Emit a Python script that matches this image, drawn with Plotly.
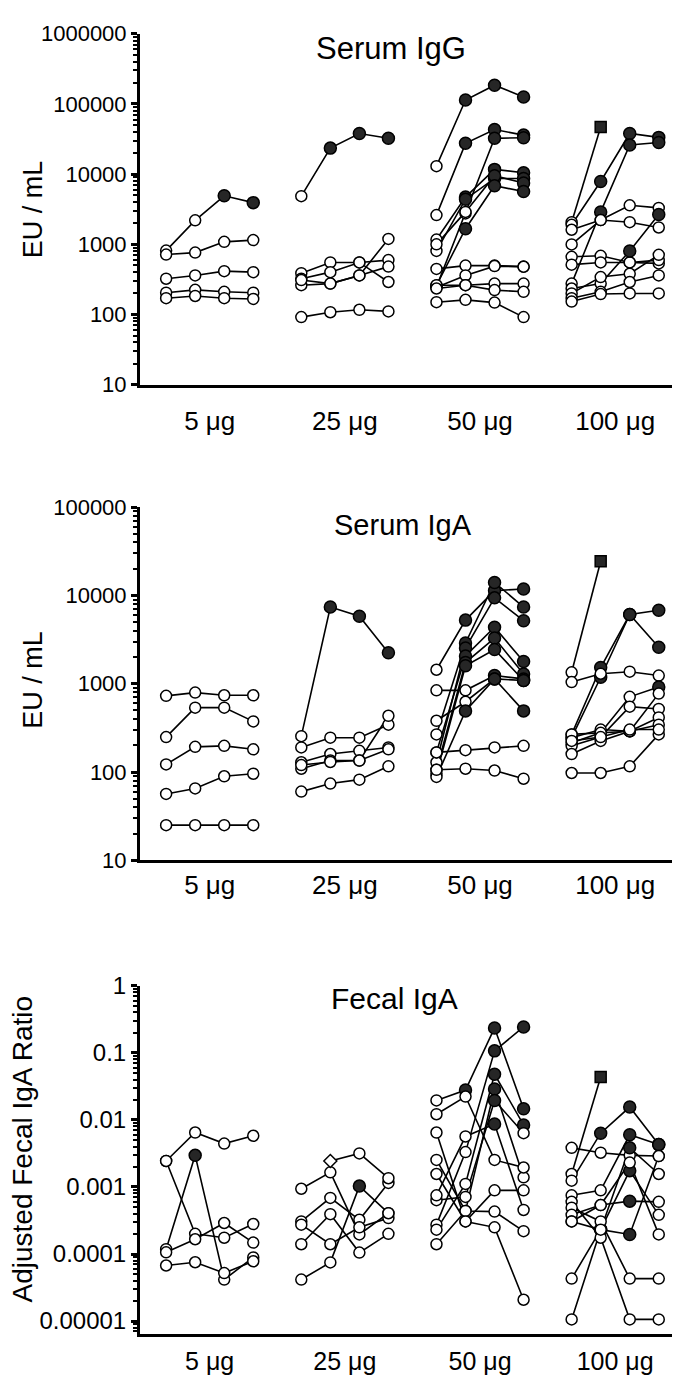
import plotly.graph_objects as go

# ---------------- data ----------------
DOSES = ["5 μg", "25 μg", "50 μg", "100 μg"]
TIMEPOINTS = [0, 1, 2, 3]

# status codes per point: n = open circle, r = filled circle, x = filled square, d = open diamond
IGG_5 = [[815, 2200, 4920, 3930], [716, 763, 1086, 1150], [324, 361, 415, 402],
         [205, 225, 211, 205], [171, 184, 171, 167]]
IGG_5_ST = ["nnrr", "nnnn", "nnnn", "nnnn", "nnnn"]
IGG_25 = [[4860, 23500, 38000, 32400], [389, 553, 553, 291], [324, 402, 553, 597],
          [262, 276, 361, 1197], [310, 276, 361, 482], [92, 108, 117, 111]]
IGG_25_ST = ["nrrr", "nnnn", "nnnn", "nnnn", "nnnn", "nnnn"]
IGG_50 = [[13000, 114000, 185000, 126000], [2610, 27500, 43300, 36000], [248, 2760, 32400, 33000],
          [1170, 4710, 11700, 10500], [806, 4400, 8670, 8670], [1000, 2900, 9500, 7470],
          [260, 1670, 6850, 5650], [447, 498, 498, 482], [245, 361, 490, 480],
          [262, 262, 276, 276], [235, 262, 223, 211], [150, 162, 148, 92]]
IGG_50_ST = ["nrrr", "nrrr", "nnrr", "nrrr", "nrrr", "nnrr", "nrrr",
             "nnnn", "nnnn", "nnnn", "nnnn", "nnnn"]
IGG_100 = [[2070, 47000, None, None], [1900, 7870, 38000, 33400], [276, 2900, 26100, 28200],
           [1615, 2220, 3600, 3310], [998, 2220, 2070, 1740], [665, 687, 553, 536],
           [514, 553, 553, 597], [235, 276, 806, 2670], [200, 342, 381, 710],
           [171, 211, 291, 361], [153, 196, 200, 200]]
IGG_100_ST = ["nx--", "nrrr", "nrrr", "nnnn", "nnnn", "nnnn", "nnnn", "nnrr", "nnnn", "nnnn", "nnnn"]

IGA_5 = [[730, 795, 741, 741], [249, 537, 537, 375], [122, 193, 198, 181],
         [56.5, 65.2, 89.5, 95.7], [25, 25, 25, 25]]
IGA_5_ST = ["nnnn", "nnnn", "nnnn", "nnnn", "nnnn"]
IGA_25 = [[255, 7410, 5840, 2250], [190, 245, 245, 344], [129, 160, 174, 190],
          [109, 135, 135, 434], [120, 130, 135, 181], [60, 74, 82, 116]]
IGA_25_ST = ["nrrr", "nnnn", "nnnn", "nnnn", "nnnn", "nnnn"]
IGA_50 = [[1442, 5270, 11370, 11860], [267, 2900, 14060, 7410], [129, 2550, 9420, 5190],
          [167, 2070, 4370, 1786], [106, 1740, 3300, 1290], [96, 1600, 2450, 1090],
          [843, 843, 1240, 1136], [381, 626, 1136, 493], [88, 493, 1136, 1090],
          [167, 177, 190, 198], [106, 109, 104, 84]]
IGA_50_ST = ["nrrr", "nrrr", "nrrr", "nrrr", "nrrr", "nrrr", "nnrr", "nnrr", "nrrr", "nnnn", "nnnn"]
IGA_100 = [[1350, 24500, None, None], [267, 1530, 6100, 6810], [245, 1186, 6100, 2600],
           [1045, 1300, 1371, 1240], [215, 278, 711, 918], [198, 249, 551, 519],
           [160, 225, 290, 774], [245, 303, 290, 416], [97.5, 97.5, 116, 267],
           [267, 278, 290, 344], [225, 249, 303, 303]]
IGA_100_ST = ["nx--", "nrrr", "nrrr", "nnnn", "nnnr", "nnnn", "nnnn", "nnnn", "nnnn", "nnnn", "nnnn"]

FEC_5 = [[0.00244, 0.00648, 0.00443, 0.0058], [0.000118, 0.00296, 4.16e-5, 8.9e-5],
         [0.00244, 0.0002, 0.000175, 0.00028], [0.000106, 0.000166, 0.00029, 0.000148],
         [6.74e-5, 7.54e-5, 5.2e-5, 7.8e-5]]
FEC_5_ST = ["nnnn", "nrnn", "nnnn", "nnnn", "nnnn"]
FEC_25 = [[0.00094, 0.00165, 0.000196, 0.000406], [0.000306, 0.000687, 0.000324, 0.00115],
          [0.000274, 0.00014, 0.00025, 0.000343], [0.00014, 0.000393, 0.000105, 0.0002],
          [4.16e-5, 7.5e-5, 0.00103, 0.000406], [None, 0.00244, 0.00316, 0.00135]]
FEC_25_ST = ["nnnn", "nnnn", "nnnn", "nnnn", "nnrn", "-dnn"]
FEC_50 = [[0.0195, 0.0279, 0.235, 0.0147], [0.000274, 0.00331, 0.107, 0.243],
          [0.000231, 0.00111, 0.0479, 0.0084], [0.00014, 0.000439, 0.0289, 0.00139],
          [0.000635, 0.000711, 0.0195, 0.00634], [0.000751, 0.00566, 0.00869, 0.000454],
          [0.01215, 0.0223, 0.00253, 0.00195], [0.00648, 0.000306, 0.00089, 0.00089],
          [0.00253, 0.000439, 0.000429, 0.000219], [0.00156, 0.000306, 0.00025, 2.08e-5]]
FEC_50_ST = ["nrrr", "nnrr", "nnrr", "nnrn", "nnrn", "nnrn", "nnnn", "nnnn", "nnnn", "nnnn"]
FEC_100 = [[0.00156, 0.0437, None, None], [0.00124, 0.00634, 0.01555, 0.00428],
           [0.00383, 0.00324, 0.00296, 0.00289], [0.000751, 0.00089, 0.006, 0.00428],
           [1.06e-5, 0.000231, 0.00383, 0.00156], [4.3e-5, 0.000231, 0.00175, 0.000384],
           [0.0006, 0.000175, 1.06e-5, 1.06e-5], [0.000491, 0.000306, 4.3e-5, 4.3e-5],
           [0.000384, 0.000537, 0.000614, 0.0006], [0.000306, 0.000231, 0.000196, 0.00289],
           [0.000306, 0.000537, 0.00231, 0.000196]]
FEC_100_ST = ["nx--", "nrrr", "nnnn", "nnrr", "nrrn", "nrrn", "nnnn", "nnnn", "nnrn", "nnrn", "nnnn"]

IGG_TICKS = [10, 100, 1000, 10000, 100000, 1000000]
IGG_TICKTEXT = ["10", "100", "1000", "10000", "100000", "1000000"]
IGA_TICKS = [10, 100, 1000, 10000, 100000]
IGA_TICKTEXT = ["10", "100", "1000", "10000", "100000"]
FEC_TICKS = [0.00001, 0.0001, 0.001, 0.01, 0.1, 1]
FEC_TICKTEXT = ["0.00001", "0.0001", "0.001", "0.01", "0.1", "1"]

TITLES = ["Serum IgG", "Serum IgA", "Fecal IgA"]
YTITLES = ["EU / mL", "EU / mL", "Adjusted Fecal IgA Ratio"]

# ---------------- layout helpers ----------------
FONT = "Liberation Sans, Arial, Helvetica, sans-serif"
W, H = 680, 1380
ML, MR = 132, 5
PW = W - ML - MR
GROUP_STEP = 4.655
XRANGE = [-0.9, 17.8]

STYLE = {
    "n": dict(symbol="circle", color="white", size=11),
    "r": dict(symbol="circle", color="#262626", size=12),
    "x": dict(symbol="square", color="#262626", size=11),
    "d": dict(symbol="diamond", color="white", size=10),
}

panels = [
    dict(groups=[(IGG_5, IGG_5_ST), (IGG_25, IGG_25_ST), (IGG_50, IGG_50_ST), (IGG_100, IGG_100_ST)],
         ticks=IGG_TICKS, ticktext=IGG_TICKTEXT, top=12, bottom=370, rng=[1, 6],
         title_xy=(383, 27), title_size=31, ytitle_xy=(25, 191), ytitle_size=27,
         tickfont=22, xfont=26, standoff=11),
    dict(groups=[(IGA_5, IGA_5_ST), (IGA_25, IGA_25_ST), (IGA_50, IGA_50_ST), (IGA_100, IGA_100_ST)],
         ticks=IGA_TICKS, ticktext=IGA_TICKTEXT, top=495, bottom=855, rng=[1, 5],
         title_xy=(395, 513), title_size=29, ytitle_xy=(25, 671), ytitle_size=27,
         tickfont=22, xfont=26, standoff=0),
    dict(groups=[(FEC_5, FEC_5_ST), (FEC_25, FEC_25_ST), (FEC_50, FEC_50_ST), (FEC_100, FEC_100_ST)],
         ticks=FEC_TICKS, ticktext=FEC_TICKTEXT, top=983, bottom=1338, rng=[-5.19, 0],
         title_xy=(386, 996), title_size=30, ytitle_xy=(14, 1150), ytitle_size=28,
         tickfont=24, xfont=25, standoff=3),
]

fig = go.Figure()
layout = {}
annotations = []


def px_to_paper_x(px):
    return (px - ML) / PW


def px_to_paper_y(py):
    return 1 - py / H


for i, p in enumerate(panels):
    xa = "x" if i == 0 else f"x{i+1}"
    ya = "y" if i == 0 else f"y{i+1}"
    # lines first
    for g, (series, status) in enumerate(p["groups"]):
        for vals in series:
            xs = [g * GROUP_STEP + t for t in TIMEPOINTS]
            fig.add_trace(go.Scatter(x=xs, y=vals, mode="lines", xaxis=xa, yaxis=ya,
                                     line=dict(color="black", width=1.6),
                                     connectgaps=False, showlegend=False, hoverinfo="skip"))
    # markers on top
    for g, (series, status) in enumerate(p["groups"]):
        for vals, st in zip(series, status):
            xs, ys, sym, col, sz = [], [], [], [], []
            for t, v, s in zip(TIMEPOINTS, vals, st):
                if v is None or s == "-":
                    continue
                xs.append(g * GROUP_STEP + t)
                ys.append(v)
                sym.append(STYLE[s]["symbol"])
                col.append(STYLE[s]["color"])
                sz.append(STYLE[s]["size"])
            fig.add_trace(go.Scatter(x=xs, y=ys, mode="markers", xaxis=xa, yaxis=ya,
                                     marker=dict(symbol=sym, color=col, size=sz, opacity=1,
                                                 line=dict(color="black", width=1.5)),
                                     showlegend=False, hoverinfo="skip"))

    lo, hi = p["rng"]
    minor_vals = []
    for d in range(int(lo) - 1, int(hi) + 1):
        for k in range(2, 10):
            v = k * 10.0 ** d
            if 10 ** lo <= v <= 10 ** hi:
                minor_vals.append(v)

    yname = "yaxis" if i == 0 else f"yaxis{i+1}"
    xname = "xaxis" if i == 0 else f"xaxis{i+1}"
    layout[yname] = dict(
        type="log", range=p["rng"], domain=[px_to_paper_y(p["bottom"]), px_to_paper_y(p["top"])],
        anchor=xa, showline=True, linewidth=3, linecolor="black", mirror=False,
        ticks="outside", ticklen=6, tickwidth=2.5, tickcolor="black",
        tickmode="array", tickvals=p["ticks"], ticktext=p["ticktext"],
        tickfont=dict(size=p["tickfont"], family=FONT, color="black"),
        showgrid=False, zeroline=False, fixedrange=True,
        minor=dict(ticks="outside", ticklen=4, tickwidth=2, tickcolor="black",
                   tickmode="array", tickvals=minor_vals, showgrid=False),
    )
    layout[xname] = dict(
        range=XRANGE, domain=[0, 1], anchor=ya, showline=True, linewidth=3, linecolor="black",
        ticks="", tickmode="array",
        tickvals=[g * GROUP_STEP + 1.5 for g in range(len(DOSES))], ticktext=DOSES,
        tickfont=dict(size=p["xfont"], family=FONT, color="black"),
        ticklabelstandoff=p["standoff"],
        showgrid=False, zeroline=False, fixedrange=True,
    )
    tx, ty = p["title_xy"]
    annotations.append(dict(text=TITLES[i], x=px_to_paper_x(tx), y=px_to_paper_y(ty),
                            xref="paper", yref="paper", showarrow=False,
                            xanchor="center", yanchor="middle",
                            font=dict(size=p["title_size"], family=FONT, color="black")))
    yx, yy = p["ytitle_xy"]
    annotations.append(dict(text=YTITLES[i], x=px_to_paper_x(yx), y=px_to_paper_y(yy),
                            xref="paper", yref="paper", showarrow=False, textangle=-90,
                            xanchor="center", yanchor="middle",
                            font=dict(size=p["ytitle_size"], family=FONT, color="black")))

fig.update_layout(
    width=W, height=H,
    margin=dict(l=ML, r=MR, t=0, b=0, pad=0),
    paper_bgcolor="white", plot_bgcolor="white",
    showlegend=False, annotations=annotations,
    font=dict(family=FONT, color="black"),
    **layout,
)

fig.write_html("out.html")
